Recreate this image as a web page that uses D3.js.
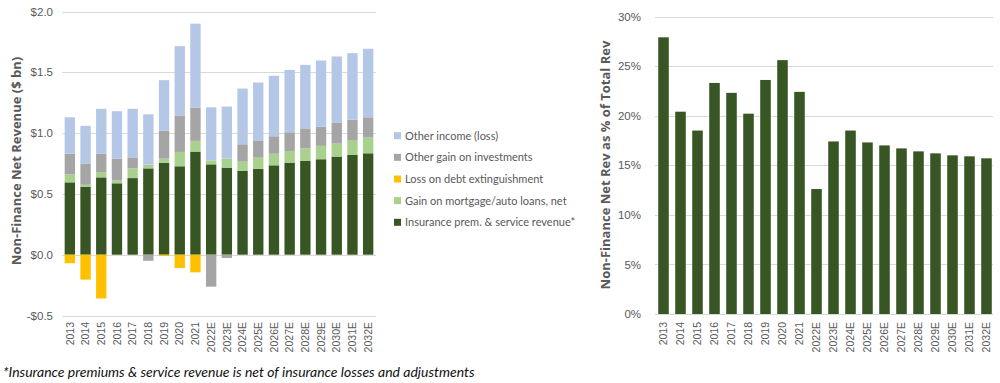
<!DOCTYPE html>
<html>
<head>
<meta charset="utf-8">
<script src="https://cdn.jsdelivr.net/npm/d3@7"></script>
<style>
    body { margin: 0; background: #fff; }
    svg { display: block; font-family: Lato, "Liberation Sans", sans-serif; }
    .tick text { fill: #595959; }
    .axis-title { font-family: "Open Sans", "Liberation Sans", sans-serif; font-weight: 700; }
</style>
</head>
<body>
<svg id="chart" width="1000" height="383"></svg>
<script>
const years = ['2013', '2014', '2015', '2016', '2017', '2018', '2019', '2020', '2021', '2022E',
    '2023E', '2024E', '2025E', '2026E', '2027E', '2028E', '2029E', '2030E', '2031E', '2032E'];

// $ bn
const insurance = [0.595, 0.56, 0.636, 0.587, 0.63, 0.71, 0.755, 0.727, 0.848, 0.743,
    0.716, 0.689, 0.705, 0.735, 0.757, 0.771, 0.785, 0.807, 0.82, 0.834];
const mortgageGain = [0.065, 0.015, 0.044, 0.023, 0.08, 0.03, 0.035, 0.118, 0.088, 0.033,
    0.074, 0.076, 0.093, 0.095, 0.096, 0.104, 0.11, 0.107, 0.118, 0.129];
const debtLoss = [-0.07, -0.205, -0.36, 0, 0, 0, -0.01, -0.11, -0.145, 0,
    0, 0, 0, 0, 0, 0, 0, 0, 0, 0];
const investGain = [0.17, 0.175, 0.15, 0.18, 0.09, -0.05, 0.23, 0.30, 0.274, -0.263,
    -0.027, 0.143, 0.138, 0.144, 0.154, 0.159, 0.158, 0.17, 0.173, 0.167];
const otherIncome = [0.30, 0.31, 0.37, 0.39, 0.40, 0.415, 0.415, 0.57, 0.69, 0.436,
    0.428, 0.458, 0.48, 0.497, 0.513, 0.527, 0.544, 0.546, 0.546, 0.563];

// % of total revenue
const revShare = [27.9, 20.4, 18.5, 23.3, 22.3, 20.2, 23.6, 25.6, 22.4, 12.6,
    17.4, 18.5, 17.3, 17.0, 16.7, 16.4, 16.2, 16.0, 15.9, 15.7];

const leftTicks = [-0.5, 0, 0.5, 1.0, 1.5, 2.0];
const rightTicks = [0, 5, 10, 15, 20, 25, 30];

const series = [
    { key: 'ins', name: 'Insurance prem. & service revenue*', values: insurance, color: '#375623' },
    { key: 'mort', name: 'Gain on mortgage/auto loans, net', values: mortgageGain, color: '#A9D18E' },
    { key: 'debt', name: 'Loss on debt extinguishment', values: debtLoss, color: '#FFC000' },
    { key: 'inv', name: 'Other gain on investments', values: investGain, color: '#A5A5A5' },
    { key: 'other', name: 'Other income (loss)', values: otherIncome, color: '#B4C7E7' }
];

const svg = d3.select('#chart');
const gridColor = '#D9D9D9';
const textColor = '#595959';

// ---------- left: stacked revenue ----------
const rows = years.map((y, i) => {
    const r = { year: y };
    series.forEach((s) => { r[s.key] = s.values[i]; });
    return r;
});
const stacked = d3.stack()
    .keys(series.map((s) => s.key))
    .offset(d3.stackOffsetDiverging)(rows);

const x1 = d3.scaleBand().domain(years).range([62, 376]).paddingInner(0.34).paddingOuter(0.17);
const y1 = d3.scaleLinear().domain([-0.5, 2.0]).range([315.5, 11.5]);

const left = svg.append('g');
left.append('g')
    .selectAll('line')
    .data(leftTicks)
    .join('line')
    .attr('x1', 62).attr('x2', 376)
    .attr('y1', (d) => Math.round(y1(d)) + 0.5)
    .attr('y2', (d) => Math.round(y1(d)) + 0.5)
    .attr('stroke', gridColor);

left.append('g')
    .selectAll('g')
    .data(stacked)
    .join('g')
    .attr('fill', (d, i) => series[i].color)
    .selectAll('rect')
    .data((d) => d)
    .join('rect')
    .attr('x', (d) => x1(d.data.year))
    .attr('width', x1.bandwidth())
    .attr('y', (d) => y1(Math.max(d[0], d[1])))
    .attr('height', (d) => Math.abs(y1(d[0]) - y1(d[1])));

const fmtDollar = (v) => (v < 0 ? '-$' : '$') + Math.abs(v).toFixed(1);
left.append('g')
    .attr('transform', 'translate(56,0)')
    .call(d3.axisLeft(y1).tickValues(leftTicks).tickFormat(fmtDollar).tickSize(0))
    .call((g) => g.select('.domain').remove())
    .selectAll('text')
    .attr('font-size', 11.5);

left.append('g')
    .attr('transform', 'translate(0,318)')
    .call(d3.axisBottom(x1).tickSize(0))
    .call((g) => g.select('.domain').remove())
    .selectAll('text')
    .attr('font-size', 10.5)
    .attr('text-anchor', 'end')
    .attr('transform', 'rotate(-90)')
    .attr('x', -4)
    .attr('y', 0)
    .attr('dy', '0.35em');

left.append('text')
    .attr('class', 'axis-title')
    .attr('transform', 'translate(21,161) rotate(-90)')
    .attr('text-anchor', 'middle')
    .attr('font-size', 13)
    .attr('fill', textColor)
    .text('Non-Finance Net Revenue ($ bn)');

// legend, top entry is the top of the stack
const legend = left.append('g')
    .selectAll('g')
    .data(series.slice().reverse())
    .join('g')
    .attr('transform', (d, i) => 'translate(394,' + (135.7 + i * 21.65) + ')');
legend.append('rect')
    .attr('x', 0).attr('y', -3.5)
    .attr('width', 7).attr('height', 7)
    .attr('fill', (d) => d.color);
legend.append('text')
    .attr('x', 11)
    .attr('dy', '0.35em')
    .attr('font-size', 11)
    .attr('fill', textColor)
    .text((d) => d.name);

// ---------- right: share of total revenue ----------
const x2 = d3.scaleBand().domain(years).range([655, 995]).paddingInner(0.38).paddingOuter(0.19);
const y2 = d3.scaleLinear().domain([0, 30]).range([314, 16.5]);

const right = svg.append('g');
right.append('g')
    .selectAll('line')
    .data(rightTicks)
    .join('line')
    .attr('x1', 655).attr('x2', 993)
    .attr('y1', (d) => Math.round(y2(d)) + 0.5)
    .attr('y2', (d) => Math.round(y2(d)) + 0.5)
    .attr('stroke', gridColor);

right.append('g')
    .selectAll('rect')
    .data(revShare)
    .join('rect')
    .attr('x', (d, i) => x2(years[i]))
    .attr('width', x2.bandwidth())
    .attr('y', (d) => y2(d))
    .attr('height', (d) => y2(0) - y2(d))
    .attr('fill', '#375623');

right.append('g')
    .attr('transform', 'translate(644,0)')
    .call(d3.axisLeft(y2).tickValues(rightTicks).tickFormat((d) => d + '%').tickSize(0))
    .call((g) => g.select('.domain').remove())
    .selectAll('text')
    .attr('font-size', 11.5);

right.append('g')
    .attr('transform', 'translate(0,318)')
    .call(d3.axisBottom(x2).tickSize(0))
    .call((g) => g.select('.domain').remove())
    .selectAll('text')
    .attr('font-size', 10.5)
    .attr('text-anchor', 'end')
    .attr('transform', 'rotate(-90)')
    .attr('x', -4)
    .attr('y', 0)
    .attr('dy', '0.35em');

right.append('text')
    .attr('class', 'axis-title')
    .attr('transform', 'translate(610,165) rotate(-90)')
    .attr('text-anchor', 'middle')
    .attr('font-size', 13)
    .attr('fill', textColor)
    .text('Non-Finance Net Rev as % of Total Rev');

// footnote
svg.append('text')
    .attr('x', 3)
    .attr('y', 377)
    .attr('font-size', 14)
    .attr('font-style', 'italic')
    .attr('fill', '#111')
    .text('*Insurance premiums & service revenue is net of insurance losses and adjustments');
</script>
</body>
</html>
